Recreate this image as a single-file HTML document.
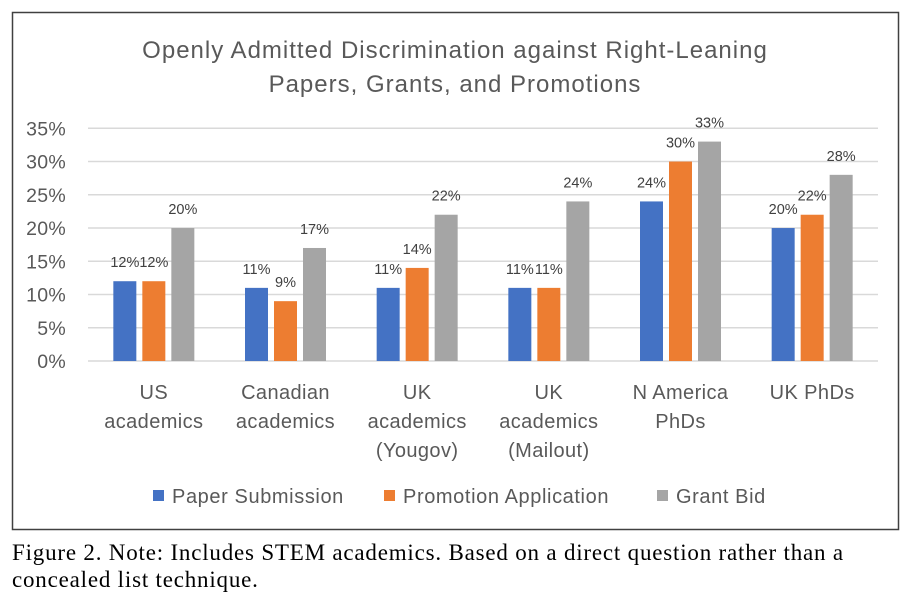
<!DOCTYPE html>
<html><head><meta charset="utf-8"><style>
body{margin:0;background:#fff;width:913px;height:595px;overflow:hidden;position:relative}
svg{position:absolute;left:0;top:0}
.cap{position:absolute;left:12px;top:539px;font-family:"Liberation Serif",serif;font-size:23px;letter-spacing:0.8px;line-height:27px;color:#000;white-space:nowrap}
</style></head><body>
<svg id="chart" width="913" height="535" font-family="Liberation Sans, sans-serif"></svg>
<div class="cap">Figure 2. Note: Includes STEM academics. Based on a direct question rather than a<br>concealed list technique.</div>
<script>
const categories=[["US","academics"],["Canadian","academics"],["UK","academics","(Yougov)"],["UK","academics","(Mailout)"],["N America","PhDs"],["UK PhDs"]];
const paper=[12,11,11,11,24,20];
const promotion=[12,9,14,11,30,22];
const grant=[20,17,22,24,33,28];
const ticks=[0,5,10,15,20,25,30,35];
const seriesNames=["Paper Submission","Promotion Application","Grant Bid"];
const colors=["#4472c4","#ed7d31","#a5a5a5"];
const NS="http://www.w3.org/2000/svg";
const svg=document.getElementById('chart');
function mk(t,a,p){const e=document.createElementNS(NS,t);for(const k in a)e.setAttribute(k,a[k]);(p||svg).appendChild(e);return e;}
const x0=88,x1=878,y0=361,yTop=128.3,vmax=35;
const y=v=>y0-(v/vmax)*(y0-yTop);
const gw=(x1-x0)/categories.length;
const gx=i=>x0+gw*(i+0.5);
const border=mk('rect',{x:12.5,y:12.5,width:886,height:517,fill:'none',stroke:'#404040','stroke-width':1.5});


const title=mk('text',{x:455,y:58,'text-anchor':'middle','font-size':24,'letter-spacing':1,fill:'#595959'});


title.innerHTML='<tspan x="455" y="58">Openly Admitted Discrimination against Right-Leaning</tspan><tspan x="455" y="92">Papers, Grants, and Promotions</tspan>';
ticks.forEach(t=>{
 const g=mk('line',{x1:x0,x2:x1,y1:y(t),y2:y(t),stroke:'#d9d9d9','stroke-width':1.5});
 
 
 const l=mk('text',{x:66,y:y(t)+7,'text-anchor':'end','font-size':19.5,'letter-spacing':0.3,fill:'#595959'});
 
 
 l.textContent=t+'%';
});
const data=[paper,promotion,grant];
const bw=23,step=29;
categories.forEach((c,i)=>{
 data.forEach((s,j)=>{
  const bx=gx(i)+(j-1)*step-bw/2;
  const r=mk('rect',{x:bx,y:y(s[i]),width:bw,height:y0-y(s[i]),fill:colors[j]});
  
  
  const t=mk('text',{x:bx+bw/2,y:y(s[i])-14,'text-anchor':'middle','font-size':14.5,fill:'#404040'});
  
  
  t.textContent=s[i]+'%';
 });
 const cl=mk('text',{'text-anchor':'middle','font-size':20,'letter-spacing':0.4,fill:'#595959'});
 
 
 c.forEach((ln,k)=>{const ts=mk('tspan',{x:gx(i),y:399+k*29},cl);ts.textContent=ln;});
});
const lx=[153,384,657];
seriesNames.forEach((n,j)=>{
 const g=mk('g',{});
 
 
 mk('rect',{x:lx[j],y:490,width:11,height:11,fill:colors[j]},g);
 const t=mk('text',{x:lx[j]+19,y:503,'font-size':20,'letter-spacing':0.6,fill:'#595959'},g);
 t.textContent=n;
});
</script>
</body></html>
